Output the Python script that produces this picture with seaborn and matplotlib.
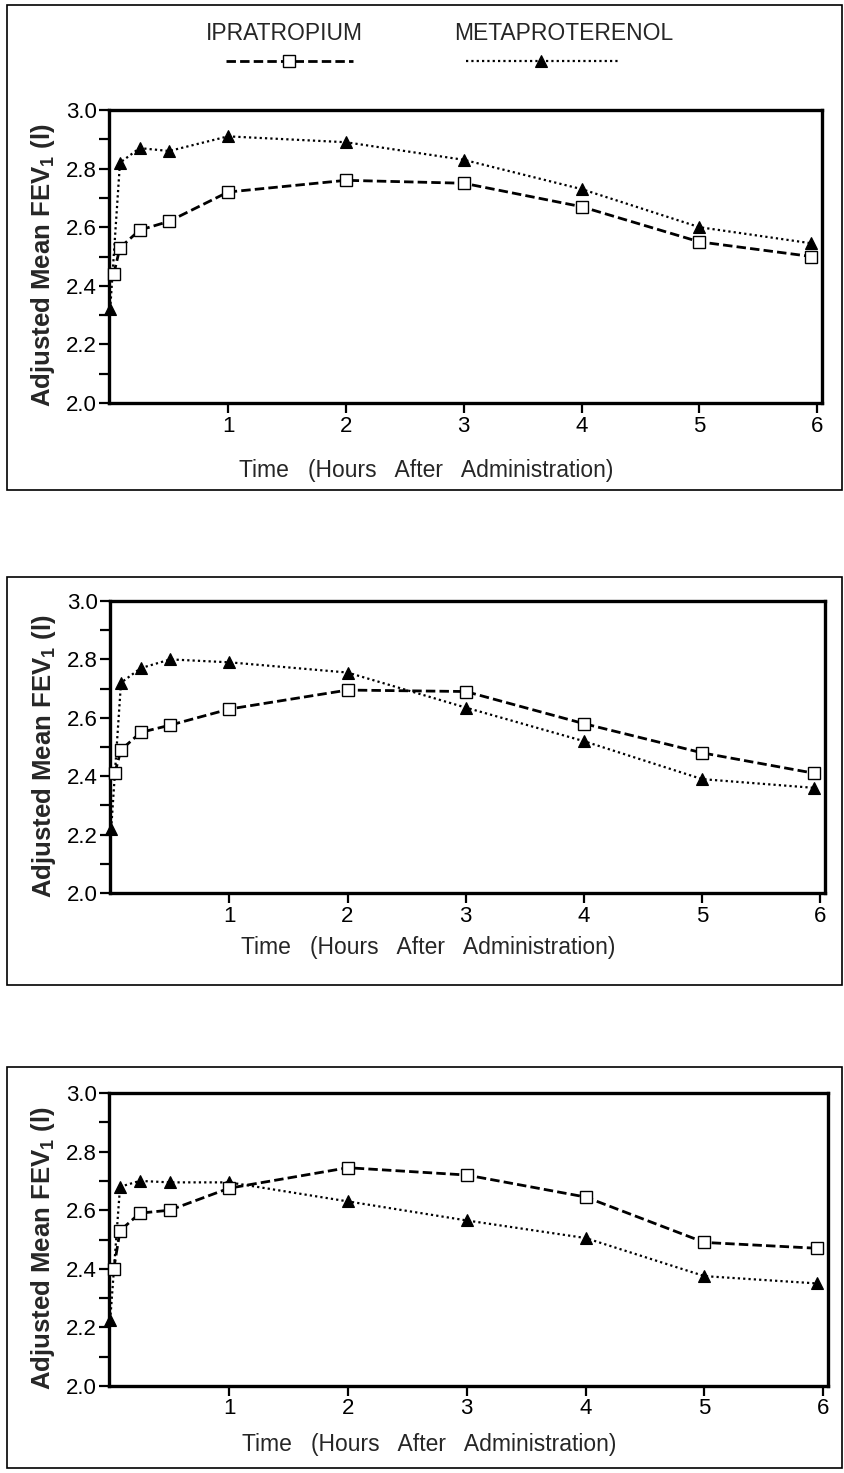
import numpy as np
import pandas as pd
import seaborn as sns
import matplotlib.pyplot as plt
from matplotlib.patches import Rectangle
from matplotlib.lines import Line2D
from matplotlib.ticker import MultipleLocator

sns.set_style('ticks')
plt.rcParams['font.family'] = ['Liberation Sans', 'DejaVu Sans']

# time points (hours after administration)
time_ipra = [0.03, 0.083, 0.25, 0.5, 1, 2, 3, 4, 5, 5.95]
time_meta = [0.0, 0.083, 0.25, 0.5, 1, 2, 3, 4, 5, 5.95]

# adjusted mean FEV1 (l), one list per panel
ipra_1 = [2.44, 2.53, 2.59, 2.62, 2.72, 2.76, 2.75, 2.67, 2.55, 2.50]
meta_1 = [2.32, 2.82, 2.87, 2.86, 2.91, 2.89, 2.83, 2.73, 2.60, 2.545]
ipra_2 = [2.41, 2.49, 2.55, 2.575, 2.63, 2.695, 2.69, 2.58, 2.48, 2.41]
meta_2 = [2.22, 2.72, 2.77, 2.80, 2.79, 2.755, 2.635, 2.52, 2.39, 2.36]
ipra_3 = [2.40, 2.53, 2.59, 2.60, 2.675, 2.745, 2.72, 2.645, 2.49, 2.47]
meta_3 = [2.225, 2.68, 2.70, 2.695, 2.695, 2.63, 2.565, 2.505, 2.375, 2.35]

labels = ['IPRATROPIUM', 'METAPROTERENOL']
x_ticks = [1, 2, 3, 4, 5, 6]

W, H = 845, 1473
fig = plt.figure(figsize=(W / 100, H / 100), dpi=100)

ipra_style = dict(color='black', linewidth=2.0, linestyle=(0, (3.4, 1.5)),
                  marker='s', markersize=9, markerfacecolor='white',
                  markeredgecolor='black', markeredgewidth=1.0)
meta_style = dict(color='black', linewidth=1.6, linestyle=(0, (1, 1.4)),
                  marker='^', markersize=8.5, markerfacecolor='black',
                  markeredgecolor='black', markeredgewidth=0.8)


def px_rect(left, top, right, bottom):
    return [left / W, 1 - bottom / H, (right - left) / W, (bottom - top) / H]


def add_frame(left, top, right, bottom):
    r = Rectangle((left / W, 1 - bottom / H), (right - left) / W, (bottom - top) / H,
                  transform=fig.transFigure, fill=False, edgecolor='black', linewidth=1.2)
    fig.add_artist(r)


def draw_panel(rect, ipra, meta, xlab_y):
    ax = fig.add_axes(px_rect(*rect))
    df_i = pd.DataFrame({'t': time_ipra, 'fev': ipra})
    df_m = pd.DataFrame({'t': time_meta, 'fev': meta})
    sns.lineplot(data=df_m, x='t', y='fev', ax=ax, clip_on=False, zorder=3, **meta_style)
    sns.lineplot(data=df_i, x='t', y='fev', ax=ax, clip_on=False, zorder=4, **ipra_style)
    ax.set_xlim(-0.01, 6.04)
    ax.set_ylim(2.0, 3.0)
    ax.set_xticks(x_ticks)
    ax.yaxis.set_major_locator(MultipleLocator(0.2))
    ax.yaxis.set_minor_locator(MultipleLocator(0.1))
    ax.yaxis.set_major_formatter(plt.FormatStrFormatter('%.1f'))
    ax.tick_params(axis='both', which='both', direction='out', length=7, width=1.6,
                   labelsize=16, pad=2, color='black', labelcolor='black')
    ax.tick_params(axis='y', which='minor', length=7, width=1.6)
    for s in ax.spines.values():
        s.set_linewidth(2.4)
        s.set_color('black')
    ax.set_xlabel('Time   (Hours   After   Administration)', fontsize=16.5)
    ax.xaxis.set_label_coords(0.445, xlab_y)
    ax.xaxis.label.set_va('center')
    ax.set_ylabel('Adjusted Mean FEV$_\\mathregular{1}$ (l)', fontsize=18.5, fontweight='bold')
    ax.yaxis.set_label_coords(-0.092, 0.47)
    ax.yaxis.label.set_va('center')
    ax.grid(False)
    return ax


# outer frames around each panel
add_frame(7, 5, 842, 490)
add_frame(7, 577, 842, 985)
add_frame(7, 1067, 842, 1468)

draw_panel((109, 110, 822, 403), ipra_1, meta_1, -0.229)
draw_panel((110, 601, 825, 893), ipra_2, meta_2, -0.188)
draw_panel((109, 1093, 828, 1386), ipra_3, meta_3, -0.20)

# legend at top: name above a line sample
fig.text(284 / W, 1 - 33 / H, labels[0], ha='center', va='center', fontsize=16.5)
fig.text(564 / W, 1 - 33 / H, labels[1], ha='center', va='center', fontsize=16.5)
leg_y = 1 - 61 / H
fig.add_artist(Line2D([226 / W, 289 / W, 353 / W], [leg_y] * 3, transform=fig.transFigure,
                      markevery=[1], **ipra_style))
fig.add_artist(Line2D([466 / W, 541 / W, 620 / W], [leg_y] * 3, transform=fig.transFigure,
                      markevery=[1], **meta_style))

fig.savefig('out.png', dpi=100, facecolor='white')
